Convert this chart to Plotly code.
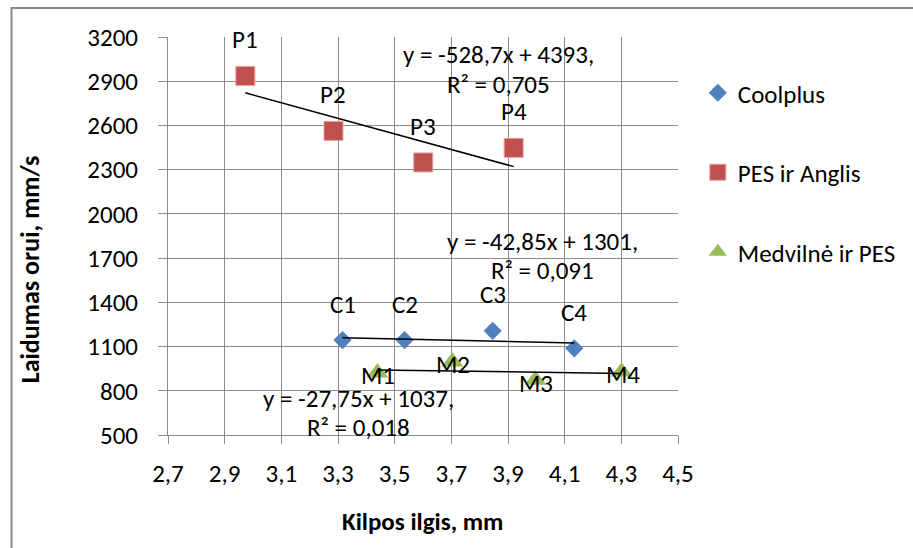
import plotly.graph_objects as go

# ---- data ----
coolplus_x = [3.316, 3.535, 3.846, 4.134]
coolplus_y = [1144, 1144, 1207, 1088]
coolplus_lbl = ["C1", "C2", "C3", "C4"]

pes_x = [2.973, 3.284, 3.601, 3.920]
pes_y = [2936, 2563, 2349, 2448]
pes_lbl = ["P1", "P2", "P3", "P4"]

med_x = [3.439, 3.704, 3.997, 4.301]
med_y = [923, 997, 873, 929]
med_lbl = ["M1", "M2", "M3", "M4"]

# trendline coefficients (slope, intercept) and equation texts
trend_coolplus = (-42.85, 1301)
trend_pes = (-528.7, 4393)
trend_med = (-27.75, 1037)
eq_coolplus = ["y = -42,85x + 1301,", "R² = 0,091"]
eq_pes = ["y = -528,7x + 4393,", "R² = 0,705"]
eq_med = ["y = -27,75x + 1037,", "R² = 0,018"]

x_ticks = [2.7, 2.9, 3.1, 3.3, 3.5, 3.7, 3.9, 4.1, 4.3, 4.5]
x_ticktext = ["2,7", "2,9", "3,1", "3,3", "3,5", "3,7", "3,9", "4,1", "4,3", "4,5"]
y_ticks = [500, 800, 1100, 1400, 1700, 2000, 2300, 2600, 2900, 3200]

FONT = "Carlito, Lato, sans-serif"
FS = 25
L, R, T, B = 168, 230, 37, 113
W, H = 913, 548
PW, PH = W - L - R, H - T - B


def px(xp):
    return (xp - L) / PW


def py(yp):
    return (H - B - yp) / PH


fig = go.Figure()

series = [
    ("Coolplus", coolplus_x, coolplus_y, dict(symbol="diamond", size=14, color="#4F81BD")),
    ("PES ir Anglis", pes_x, pes_y, dict(symbol="square", size=19, color="#C0504D",
                                          line=dict(color="#E6A09E", width=1))),
    ("Medvilnė ir PES", med_x, med_y, dict(symbol="triangle-up", size=19, color="#9BBB59")),
]
for i, (name, xs, ys, mk) in enumerate(series):
    fig.add_trace(go.Scatter(x=xs, y=ys, mode="markers", name=name, marker=mk,
                             legendgroup=str(i), showlegend=True))

for xs, (m, c) in [(coolplus_x, trend_coolplus), (pes_x, trend_pes), (med_x, trend_med)]:
    x0, x1 = min(xs), max(xs)
    fig.add_trace(go.Scatter(x=[x0, x1], y=[m * x0 + c, m * x1 + c], mode="lines",
                             line=dict(color="black", width=1.5), showlegend=False,
                             hoverinfo="skip"))

ann = []
for xs, ys, lbls in [(pes_x, pes_y, pes_lbl), (coolplus_x, coolplus_y, coolplus_lbl)]:
    for x, y, t in zip(xs, ys, lbls):
        ann.append(dict(x=x, y=y, xref="x", yref="y", text=t, showarrow=False,
                        xanchor="center", yanchor="middle",
                        yshift=36, font=dict(family=FONT, size=FS, color="black")))
for x, y, t in zip(med_x, med_y, med_lbl):
    ann.append(dict(x=x, y=y, xref="x", yref="y", text=t, showarrow=False,
                    xanchor="center", yanchor="middle",
                    xshift=1, yshift=-3, font=dict(family=FONT, size=FS, color="black")))

for lines, cx, cy in [(eq_pes, 502, 55), (eq_coolplus, 546, 241), (eq_med, 360, 398)]:
    for k, line in enumerate(lines):
        ann.append(dict(x=px(cx), y=py(cy + 29 * k), xref="paper", yref="paper", text=line,
                        showarrow=False, xanchor="center", yanchor="middle",
                        font=dict(family=FONT, size=FS, color="black")))

ann.append(dict(x=px(425), y=py(521), xref="paper", yref="paper", text="<b>Kilpos ilgis, mm</b>",
                showarrow=False, xanchor="center", yanchor="middle",
                font=dict(family=FONT, size=FS, color="black")))
ann.append(dict(x=px(29), y=py(269), xref="paper", yref="paper", text="<b>Laidumas orui, mm/s</b>",
                showarrow=False, textangle=-90, xanchor="center", yanchor="middle",
                font=dict(family=FONT, size=FS + 1, color="black")))

fig.update_layout(
    width=W, height=H,
    margin=dict(l=L, r=R, t=T, b=B),
    paper_bgcolor="white", plot_bgcolor="white",
    font=dict(family=FONT, size=FS, color="black"),
    showlegend=True,
    legend=dict(x=px(703), y=py(70), xanchor="left", yanchor="top",
                font=dict(family=FONT, size=FS, color="black"),
                tracegroupgap=44, itemsizing="trace", bgcolor="rgba(0,0,0,0)"),
    annotations=ann,
    shapes=[dict(type="rect", xref="paper", yref="paper", x0=px(10), x1=px(960),
                 y0=py(8), y1=py(600), line=dict(color="#8a8a8a", width=2), layer="below")],
)
fig.update_xaxes(range=[2.7, 4.5], tickvals=x_ticks, ticktext=x_ticktext,
                 showgrid=True, gridcolor="#8c8c8c", gridwidth=1,
                 showline=True, linecolor="#8c8c8c", linewidth=1, mirror=False,
                 ticks="outside", ticklen=8, tickcolor="#8c8c8c",
                 ticklabelstandoff=8, zeroline=False,
                 tickfont=dict(family=FONT, size=FS, color="black"))
fig.update_yaxes(range=[500, 3200], tickvals=y_ticks,
                 showgrid=True, gridcolor="#8c8c8c", gridwidth=1,
                 showline=True, linecolor="#8c8c8c", linewidth=1,
                 ticks="outside", ticklen=9, tickcolor="#8c8c8c",
                 ticklabelstandoff=15, zeroline=False,
                 tickfont=dict(family=FONT, size=FS, color="black"))

fig.write_html("out.html")
